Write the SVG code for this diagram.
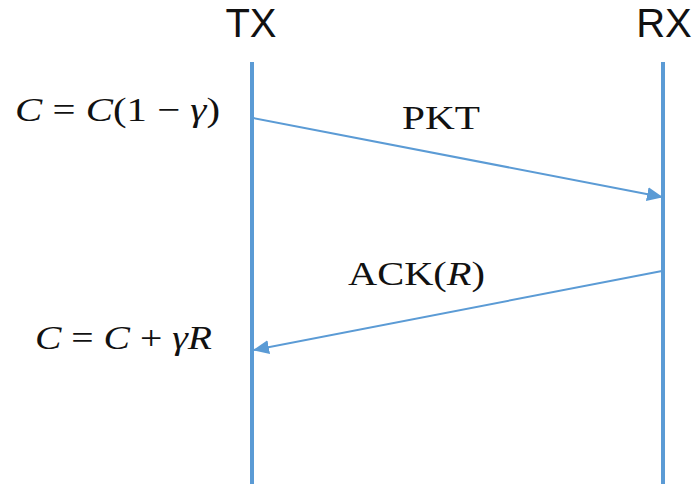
<svg xmlns="http://www.w3.org/2000/svg" width="697" height="484" viewBox="0 0 697 484">
<style>
.life{stroke:#5B9BD5;stroke-width:4;fill:none}
.msg{stroke:#5B9BD5;stroke-width:2;fill:none;marker-end:url(#ah)}
.hdr{font-family:"Liberation Sans",Arial,sans-serif;font-size:40px;fill:#111;text-anchor:middle}
.ser{font-family:"Liberation Serif","Times New Roman",serif;font-size:34px;fill:#111}
.it{font-style:italic}
</style>
<defs>
<marker id="ah" markerUnits="userSpaceOnUse" markerWidth="16" markerHeight="14" refX="15" refY="7" orient="auto">
<path d="M0,0 L16,7 L0,14 Z" fill="#5B9BD5"/>
</marker>
</defs>
<rect width="697" height="484" fill="#fff"/>
<g id="tx">
<text class="hdr" x="251" y="37">TX</text>
<line class="life" x1="252" y1="62" x2="252" y2="484"/>
</g>
<g id="rx">
<text class="hdr" x="664" y="37">RX</text>
<line class="life" x1="663" y1="62" x2="663" y2="484"/>
</g>
<g id="labels">
<text class="ser" x="15" y="121" textLength="205" lengthAdjust="spacingAndGlyphs"><tspan class="it">C</tspan> = <tspan class="it">C</tspan>(1 − <tspan class="it">γ</tspan>)</text>
<text class="ser" x="35" y="349" textLength="177" lengthAdjust="spacingAndGlyphs"><tspan class="it">C</tspan> = <tspan class="it">C</tspan> + <tspan class="it">γR</tspan></text>
</g>
<g id="connectors">
<line class="msg" x1="253" y1="118" x2="662" y2="197"/>
<text class="ser" x="402" y="129" textLength="78" lengthAdjust="spacingAndGlyphs">PKT</text>
<line class="msg" x1="662" y1="271" x2="254" y2="350"/>
<text class="ser" x="348" y="285" textLength="137" lengthAdjust="spacingAndGlyphs">ACK(<tspan class="it">R</tspan>)</text>
</g>
</svg>
